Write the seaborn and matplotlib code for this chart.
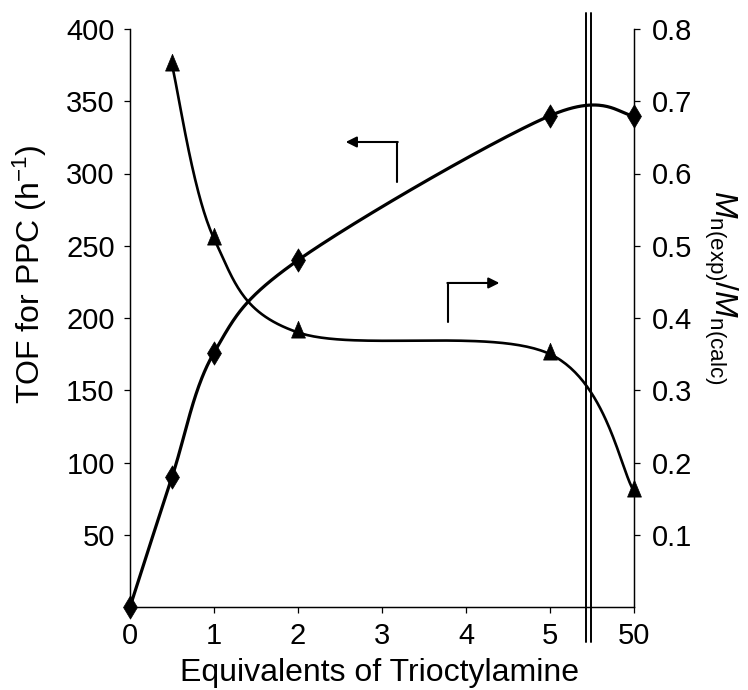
import numpy as np
import pandas as pd
import matplotlib
matplotlib.use("Agg")
import matplotlib.pyplot as plt
from matplotlib.path import Path
import seaborn as sns

# ---- data ----
x_tick_labels = ["0", "1", "2", "3", "4", "5", "50"]
tof_equiv = [0, 0.5, 1, 2, 5, 50]
tof_values = [0, 90, 176, 240, 340, 340]
mn_equiv = [0.5, 1, 2, 5, 50]
mn_ratio = [0.75, 0.51, 0.38, 0.35, 0.16]
left_ticks = [50, 100, 150, 200, 250, 300, 350, 400]
right_ticks = [0.1, 0.2, 0.3, 0.4, 0.5, 0.6, 0.7, 0.8]


def to_pos(v):
    # broken axis: 0..5 linear, then 50 placed at position 6
    return v if v <= 5 else 6.0


def smooth(xs, ys, n=60):
    """Excel-like smoothed line (Catmull-Rom as cubic Bezier) through the points."""
    P = np.column_stack([xs, ys]).astype(float)
    out = []
    for i in range(len(P) - 1):
        p0 = P[i - 1] if i > 0 else P[i]
        p1, p2 = P[i], P[i + 1]
        p3 = P[i + 2] if i + 2 < len(P) else P[i + 1]
        b1 = p1 + (p2 - p0) / 6
        b2 = p2 - (p3 - p1) / 6
        t = np.linspace(0, 1, n)[:, None]
        seg = ((1 - t) ** 3) * p1 + 3 * ((1 - t) ** 2) * t * b1 + 3 * (1 - t) * t ** 2 * b2 + t ** 3 * p2
        out.append(seg if i == 0 else seg[1:])
    s = np.vstack(out)
    return s[:, 0], s[:, 1]


sns.set_theme(style="white")
plt.rcParams["font.family"] = ["Liberation Sans", "DejaVu Sans"]
plt.rcParams["mathtext.fontset"] = "custom"
plt.rcParams["mathtext.rm"] = "Liberation Sans"
plt.rcParams["mathtext.it"] = "Liberation Sans:italic"
plt.rcParams["text.color"] = "black"
plt.rcParams["axes.labelcolor"] = "black"
plt.rcParams["xtick.color"] = "black"
plt.rcParams["ytick.color"] = "black"

fig = plt.figure(figsize=(7.48, 6.90), dpi=100)
ax = fig.add_axes([130 / 748, 1 - 607 / 690, 504 / 748, 578 / 690])
ax2 = ax.twinx()

tof_pos = [to_pos(v) for v in tof_equiv]
mn_pos = [to_pos(v) for v in mn_equiv]

sx, sy = smooth(tof_pos, tof_values)
df_tof_line = pd.DataFrame({"x": sx, "y": sy})
sns.lineplot(data=df_tof_line, x="x", y="y", sort=False, ax=ax, color="black", lw=2.3, clip_on=False)
sns.scatterplot(x=tof_pos, y=tof_values, ax=ax, marker="d", s=140, color="black",
                edgecolor="black", linewidth=0.5, clip_on=False, zorder=5)

mx, my = smooth(mn_pos, mn_ratio)
df_mn_line = pd.DataFrame({"x": mx, "y": my})
sns.lineplot(data=df_mn_line, x="x", y="y", sort=False, ax=ax2, color="black", lw=1.9, clip_on=False)
tri = Path([(-0.62, -0.5), (0.62, -0.5), (0, 1.0), (-0.62, -0.5)],
           [Path.MOVETO, Path.LINETO, Path.LINETO, Path.CLOSEPOLY])
sns.scatterplot(x=mn_pos, y=mn_ratio, ax=ax2, marker=tri, s=260, color="black",
                edgecolor="black", linewidth=0.5, clip_on=False, zorder=5)

# axes limits / ticks
ax.set_xlim(0, 6)
ax.set_ylim(0, 400)
ax2.set_ylim(0, 0.8)
ax.set_xticks(range(len(x_tick_labels)))
ax.set_xticklabels(x_tick_labels)
ax.set_yticks(left_ticks)
ax.set_yticklabels([str(v) for v in left_ticks])
ax2.set_yticks(right_ticks)
ax2.set_yticklabels([f"{v:.1f}" for v in right_ticks])

for a in (ax, ax2):
    a.spines["top"].set_visible(False)
    for sp in a.spines.values():
        sp.set_color("black")
        sp.set_linewidth(0.9)
    a.grid(False)
    a.set_xlabel("")
    a.set_ylabel("")

ax.tick_params(axis="both", which="major", direction="out", length=4, width=0.9,
               color="black", labelsize=21, pad=7, labelcolor="black")
ax.tick_params(axis="y", left=True, right=False)
ax.tick_params(axis="x", bottom=True)
ax2.tick_params(axis="y", direction="out", length=4, width=0.9, color="black",
                labelsize=21, pad=9, right=True, labelcolor="black")

ax.set_xlabel("Equivalents of Trioctylamine", fontsize=23, va="center")
ax.xaxis.set_label_coords(0.496, -0.114)
ax.set_ylabel("TOF for PPC (h$^{\\mathregular{-1}}$)", fontsize=23, va="center")
ax.yaxis.set_label_coords(-0.198, 0.576)
ax2.set_ylabel(r"$M_{\mathrm{n(exp)}}/M_{\mathrm{n(calc)}}$", fontsize=23, rotation=270,
               va="center")
ax2.yaxis.set_label_coords(1.172, 0.554)

# axis-break double line
for xb in (5.43, 5.49):
    ax.axvline(xb, ymin=-0.06, ymax=1.028, color="black", lw=1.4, clip_on=False, zorder=6)

# direction arrows
ax.plot([0.530, 0.530], [0.735, 0.8045], transform=ax.transAxes, color="black", lw=1.5)
ax.annotate("", xy=(0.428, 0.8045), xytext=(0.5313, 0.8045), xycoords="axes fraction",
            arrowprops=dict(arrowstyle="-|>", lw=1.5, color="black", mutation_scale=16,
                            shrinkA=0, shrinkB=0))
ax.plot([0.631, 0.631], [0.493, 0.5606], transform=ax.transAxes, color="black", lw=1.5)
ax.annotate("", xy=(0.733, 0.5606), xytext=(0.6297, 0.5606), xycoords="axes fraction",
            arrowprops=dict(arrowstyle="-|>", lw=1.5, color="black", mutation_scale=16,
                            shrinkA=0, shrinkB=0))

fig.savefig("out.png", dpi=100, facecolor="white")
